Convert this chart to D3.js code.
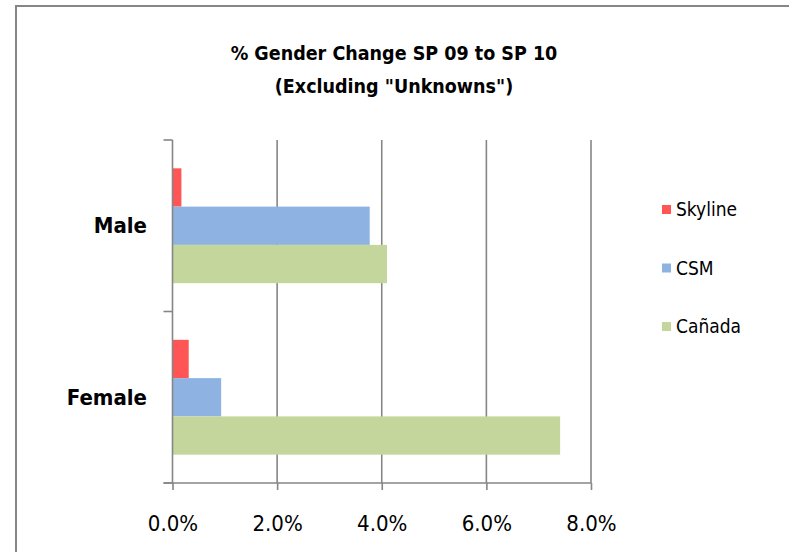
<!DOCTYPE html>
<meta charset="utf-8">
<style>
  body { margin: 0; background: #fff; }
  text { font-family: "Liberation Sans Narrow", "DejaVu Sans Condensed", "Noto Sans", sans-serif; fill: #000; }
</style>
<script src="https://d3js.org/d3.v7.min.js"></script>
<div id="my_dataviz"></div>
<script>
// data
var categories = ["Male", "Female"];
var seriesNames = ["Skyline", "CSM", "Cañada"];
var seriesColors = ["#ff5555", "#8eb3e2", "#c4d69c"];
var skyline = [0.0017, 0.0031];
var csm = [0.0377, 0.0093];
var canada = [0.0410, 0.0741];
var xTicks = [0, 0.02, 0.04, 0.06, 0.08];

var values = [skyline, csm, canada];

var W = 789, H = 552;
var svg = d3.select("#my_dataviz").append("svg")
  .attr("width", W).attr("height", H);

// outer frame
svg.append("rect")
  .attr("x", 16).attr("y", 6)
  .attr("width", 800).attr("height", 600)
  .style("fill", "#fff")
  .style("stroke", "#868686")
  .style("stroke-width", 2);

var plot = {left: 172.5, right: 591, top: 140, bottom: 483};

var x = d3.scaleLinear().domain([0, 0.08]).range([plot.left, plot.right]);
var y = d3.scaleBand().domain(categories).range([plot.top, plot.bottom]).padding(0);
var ys = d3.scaleBand().domain(seriesNames).range([0, y.bandwidth()])
  .paddingInner(0).paddingOuter(0.74);

// gridlines
svg.selectAll("grid")
  .data(xTicks.slice(1)).enter()
  .append("line")
  .attr("x1", function(d) { return x(d); })
  .attr("x2", function(d) { return x(d); })
  .attr("y1", plot.top).attr("y2", plot.bottom)
  .style("stroke", "#868686").style("stroke-width", 1.6);

// bars
seriesNames.forEach(function(s, i) {
  svg.selectAll("bar" + i)
    .data(categories).enter()
    .append("rect")
    .attr("x", x(0))
    .attr("y", function(c) { return y(c) + ys(s); })
    .attr("width", function(c, j) { return x(values[i][j]) - x(0); })
    .attr("height", ys.bandwidth())
    .style("fill", seriesColors[i]);
});

// bottom axis
var xAxis = svg.append("g")
  .attr("transform", "translate(0," + plot.bottom + ")")
  .call(d3.axisBottom(x).tickValues(xTicks).tickFormat(d3.format(".1%")).tickSize(7).tickSizeOuter(0));
xAxis.select(".domain").remove();
xAxis.append("line")
  .attr("x1", plot.left - 9).attr("x2", plot.right)
  .style("stroke", "#868686").style("stroke-width", 1.6);
xAxis.selectAll(".tick line").style("stroke", "#868686").style("stroke-width", 1.6);
xAxis.selectAll(".tick text")
  .attr("y", 32)
  .style("font-family", "'Liberation Sans Narrow', 'DejaVu Sans Condensed', sans-serif")
  .style("font-size", "22px").style("fill", "#000");

// left axis: line plus ticks on category boundaries
svg.append("line")
  .attr("x1", plot.left).attr("x2", plot.left)
  .attr("y1", plot.top).attr("y2", plot.bottom + 1)
  .style("stroke", "#868686").style("stroke-width", 1.6);
var bounds = categories.map(function(c) { return y(c); }).concat([plot.bottom]);
svg.selectAll("ytick")
  .data(bounds).enter()
  .append("line")
  .attr("x1", plot.left - 9).attr("x2", plot.left)
  .attr("y1", function(d) { return d; }).attr("y2", function(d) { return d; })
  .style("stroke", "#868686").style("stroke-width", 1.6);

svg.selectAll("ylab")
  .data(categories).enter()
  .append("text")
  .attr("x", 147)
  .attr("y", function(c) { return y(c) + y.bandwidth() / 2; })
  .attr("dy", "0.35em")
  .attr("text-anchor", "end")
  .style("font-size", "22px").style("font-weight", "bold")
  .text(function(c) { return c; });

// title
var title = svg.append("text")
  .attr("x", 394).attr("text-anchor", "middle")
  .style("font-size", "19.5px").style("font-weight", "bold");
title.append("tspan").attr("x", 394).attr("y", 60).text("% Gender Change SP 09 to SP 10");
title.append("tspan").attr("x", 394).attr("y", 93).text("(Excluding \"Unknowns\")");

// legend
var legend = svg.selectAll("legend")
  .data(seriesNames).enter()
  .append("g")
  .attr("transform", function(d, i) { return "translate(662," + (205 + i * 58.5) + ")"; });
legend.append("rect")
  .attr("width", 9).attr("height", 9)
  .style("fill", function(d, i) { return seriesColors[i]; });
legend.append("text")
  .attr("x", 14).attr("y", 4.5).attr("dy", "0.35em")
  .style("font-size", "19px")
  .text(function(d) { return d; });
</script>
